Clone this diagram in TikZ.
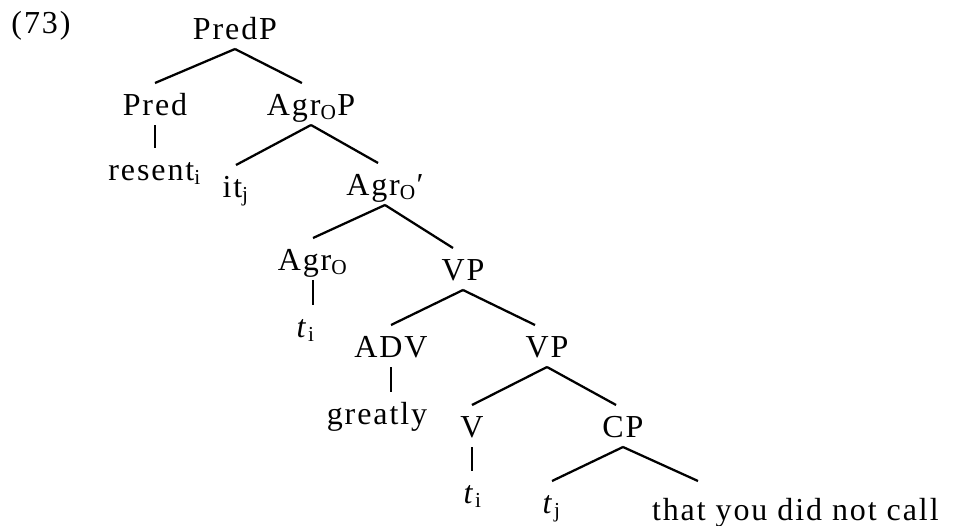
\documentclass[tikz,border=0pt]{standalone}
\usepackage{fontspec}
\setmainfont{Liberation Serif}[LetterSpace=6]
\usepackage{tikz}
\usetikzlibrary{positioning,calc}

\begin{document}
\begin{tikzpicture}[
    x=0.375pt, y=-0.375pt,
    cat/.style={inner sep=0pt, outer sep=0pt, text height=12pt, text depth=3.75pt, anchor=base, font=\fontsize{12}{14}\selectfont},
    branch/.style={line width=0.85pt},
]
\useasboundingbox (0,0) rectangle (956,525);

% Nodes
\node [cat] (ex) at (41,33) {(73)};
\node [cat] (predp) at (235,39) {PredP};
\node [cat] (pred) at (155,115) {Pred};
\node [cat] (agrop) at (311,115) {Agr\textsubscript{O}P};
\node [cat] (resent) at (155,180) {resent\textsubscript{i}};
\node [cat] (itj) at (236,197) {it\textsubscript{j}};
\node [cat] (agrobar) at (385,195) {Agr\textsubscript{O}′};
\node [cat] (agro) at (313,270) {Agr\textsubscript{O}};
\node [cat] (vpa) at (463,280) {VP};
\node [cat] (tia) at (306,337) {\textit{t}\textsubscript{i}};
\node [cat] (adv) at (391,357) {ADV};
\node [cat] (vpb) at (547,357) {VP};
\node [cat] (greatly) at (377,424) {greatly};
\node [cat] (v) at (472,437) {V};
\node [cat] (cp) at (623,437) {CP};
\node [cat] (tib) at (473,503) {\textit{t}\textsubscript{i}};
\node [cat] (tj) at (552,513) {\textit{t}\textsubscript{j}};
\node [cat, anchor=base west] (clause) at (652,520) {that you did not call};
\coordinate (clausetop) at (698,481);

% Branches
\draw [branch] (predp.south) -- (pred.north);
\draw [branch] (predp.south) -- ([xshift=-3.4pt]agrop.north);
\draw [branch] (pred.south) -- (pred.south |- resent.north);
\draw [branch] (agrop.south) -- (itj.north);
\draw [branch] (agrop.south) -- ([xshift=-2.6pt]agrobar.north);
\draw [branch] (agrobar.south) -- (agro.north);
\draw [branch] (agrobar.south) -- ([xshift=-3.75pt]vpa.north);
\draw [branch] (agro.south) -- (agro.south |- tia.north);
\draw [branch] (vpa.south) -- (adv.north);
\draw [branch] (vpa.south) -- ([xshift=-4.5pt]vpb.north);
\draw [branch] (adv.south) -- (adv.south |- greatly.north);
\draw [branch] (vpb.south) -- (v.north);
\draw [branch] (vpb.south) -- ([xshift=-2.6pt]cp.north);
\draw [branch] (v.south) -- (v.south |- tib.north);
\draw [branch] (cp.south) -- (tj.north);
\draw [branch] (cp.south) -- (clausetop);

\end{tikzpicture}
\end{document}
